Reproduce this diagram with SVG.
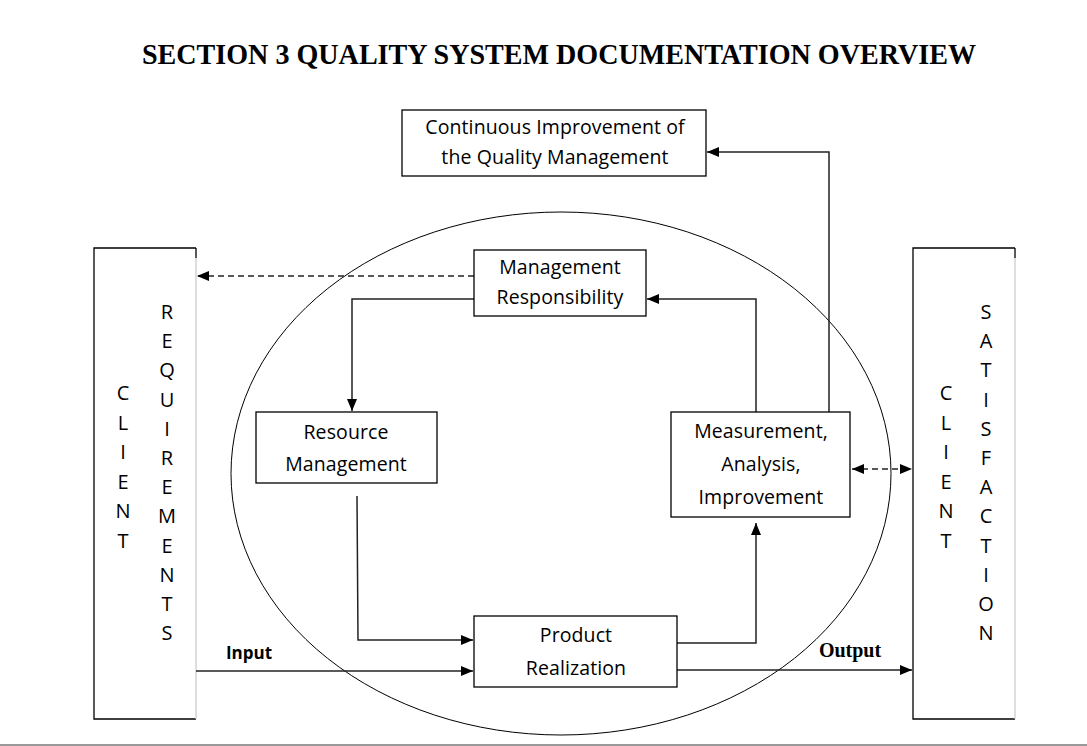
<svg xmlns="http://www.w3.org/2000/svg" width="1087" height="746" viewBox="0 0 1087 746">
<defs>
<marker id="ah" viewBox="0 0 12 10" refX="12" refY="5" markerWidth="12" markerHeight="10" markerUnits="userSpaceOnUse" orient="auto-start-reverse">
<path d="M0,0 L12,5 L0,10 z" fill="#000"/>
</marker>
<style>
.box{fill:#fff;stroke:#000;stroke-width:1.3}
.t{font-family:"Open Sans","Liberation Sans",sans-serif;font-size:19.5px;letter-spacing:0.1px;fill:#000;text-anchor:middle}
.v{font-family:"Open Sans","Liberation Sans",sans-serif;font-size:20px;fill:#000;text-anchor:middle}
.c{fill:none;stroke:#222;stroke-width:1.5}
.d{fill:none;stroke:#222;stroke-width:1.5;stroke-dasharray:6,4}
</style>
</defs>
<rect width="1087" height="746" fill="#fff"/>
<text x="559" y="64" font-family="Liberation Serif,serif" font-weight="bold" font-size="29" text-anchor="middle" textLength="834" lengthAdjust="spacingAndGlyphs">SECTION 3 QUALITY SYSTEM DOCUMENTATION OVERVIEW</text>
<ellipse cx="561" cy="473.5" rx="330" ry="261.5" fill="none" stroke="#000" stroke-width="1"/>
<line x1="0" y1="745" x2="1087" y2="745" stroke="#999" stroke-width="2"/>
<g id="client-requirements">
<path d="M196,248 H94 V719 H196" fill="none" stroke="#000" stroke-width="1.3"/>
<line x1="196" y1="258" x2="196" y2="719" stroke="#ccc" stroke-width="1.3"/>
<line x1="196" y1="248" x2="196" y2="258" stroke="#000" stroke-width="1.3"/>
<text class="v"><tspan x="123" y="400">C</tspan><tspan x="123" y="429.5">L</tspan><tspan x="123" y="459">I</tspan><tspan x="123" y="488.5">E</tspan><tspan x="123" y="518">N</tspan><tspan x="123" y="547.5">T</tspan></text>
<text class="v"><tspan x="167" y="319">R</tspan><tspan x="167" y="348.2">E</tspan><tspan x="167" y="377.4">Q</tspan><tspan x="167" y="406.6">U</tspan><tspan x="167" y="435.8">I</tspan><tspan x="167" y="465">R</tspan><tspan x="167" y="494.2">E</tspan><tspan x="167" y="523.4">M</tspan><tspan x="167" y="552.6">E</tspan><tspan x="167" y="581.8">N</tspan><tspan x="167" y="611">T</tspan><tspan x="167" y="640.2">S</tspan></text>
</g>
<g id="client-satisfaction">
<path d="M1015,248 H913 V719 H1015" fill="none" stroke="#000" stroke-width="1.3"/>
<line x1="1015" y1="258" x2="1015" y2="719" stroke="#ccc" stroke-width="1.3"/>
<line x1="1015" y1="248" x2="1015" y2="258" stroke="#000" stroke-width="1.3"/>
<text class="v"><tspan x="946" y="400">C</tspan><tspan x="946" y="429.5">L</tspan><tspan x="946" y="459">I</tspan><tspan x="946" y="488.5">E</tspan><tspan x="946" y="518">N</tspan><tspan x="946" y="547.5">T</tspan></text>
<text class="v"><tspan x="986" y="319">S</tspan><tspan x="986" y="348.2">A</tspan><tspan x="986" y="377.4">T</tspan><tspan x="986" y="406.6">I</tspan><tspan x="986" y="435.8">S</tspan><tspan x="986" y="465">F</tspan><tspan x="986" y="494.2">A</tspan><tspan x="986" y="523.4">C</tspan><tspan x="986" y="552.6">T</tspan><tspan x="986" y="581.8">I</tspan><tspan x="986" y="611">O</tspan><tspan x="986" y="640.2">N</tspan></text>
</g>
<g id="connectors">
<line class="d" x1="474" y1="276" x2="197" y2="276" marker-end="url(#ah)"/>
<path class="c" d="M474,299 H352 V411" marker-end="url(#ah)"/>
<path class="c" d="M756,412 V299 H647" marker-end="url(#ah)"/>
<path class="c" d="M829,412 V152 H707" marker-end="url(#ah)"/>
<path class="c" d="M357,496 L358,640 H473" marker-end="url(#ah)"/>
<line class="c" x1="196" y1="671" x2="473" y2="671" marker-end="url(#ah)"/>
<path class="c" d="M677,643 H756 V523" marker-end="url(#ah)"/>
<line class="c" x1="677" y1="670" x2="912" y2="670" marker-end="url(#ah)"/>
<line class="d" x1="852" y1="469" x2="912" y2="469" marker-start="url(#ah)" marker-end="url(#ah)"/>
<text x="249" y="659" font-family="Open Sans,Liberation Sans,sans-serif" font-weight="bold" font-size="17" text-anchor="middle">Input</text>
<text x="850" y="657" font-family="Liberation Serif,serif" font-weight="bold" font-size="20" text-anchor="middle">Output</text>
</g>
<g id="continuous-improvement">
<rect class="box" x="402" y="110" width="304" height="66"/>
<text class="t" x="555" y="134">Continuous Improvement of</text>
<text class="t" x="555" y="164">the Quality Management</text>
</g>
<g id="management-responsibility">
<rect class="box" x="474" y="250" width="172" height="66"/>
<text class="t" x="560" y="274">Management</text>
<text class="t" x="560" y="304">Responsibility</text>
</g>
<g id="resource-management">
<rect class="box" x="256" y="412" width="181" height="71"/>
<text class="t" x="346" y="439">Resource</text>
<text class="t" x="346" y="471">Management</text>
</g>
<g id="measurement">
<rect class="box" x="671" y="412" width="179" height="105"/>
<text class="t" x="761" y="438">Measurement,</text>
<text class="t" x="761" y="471">Analysis,</text>
<text class="t" x="761" y="504">Improvement</text>
</g>
<g id="product-realization">
<rect class="box" x="474" y="616" width="203" height="71"/>
<text class="t" x="576" y="642">Product</text>
<text class="t" x="576" y="675">Realization</text>
</g>
</svg>
